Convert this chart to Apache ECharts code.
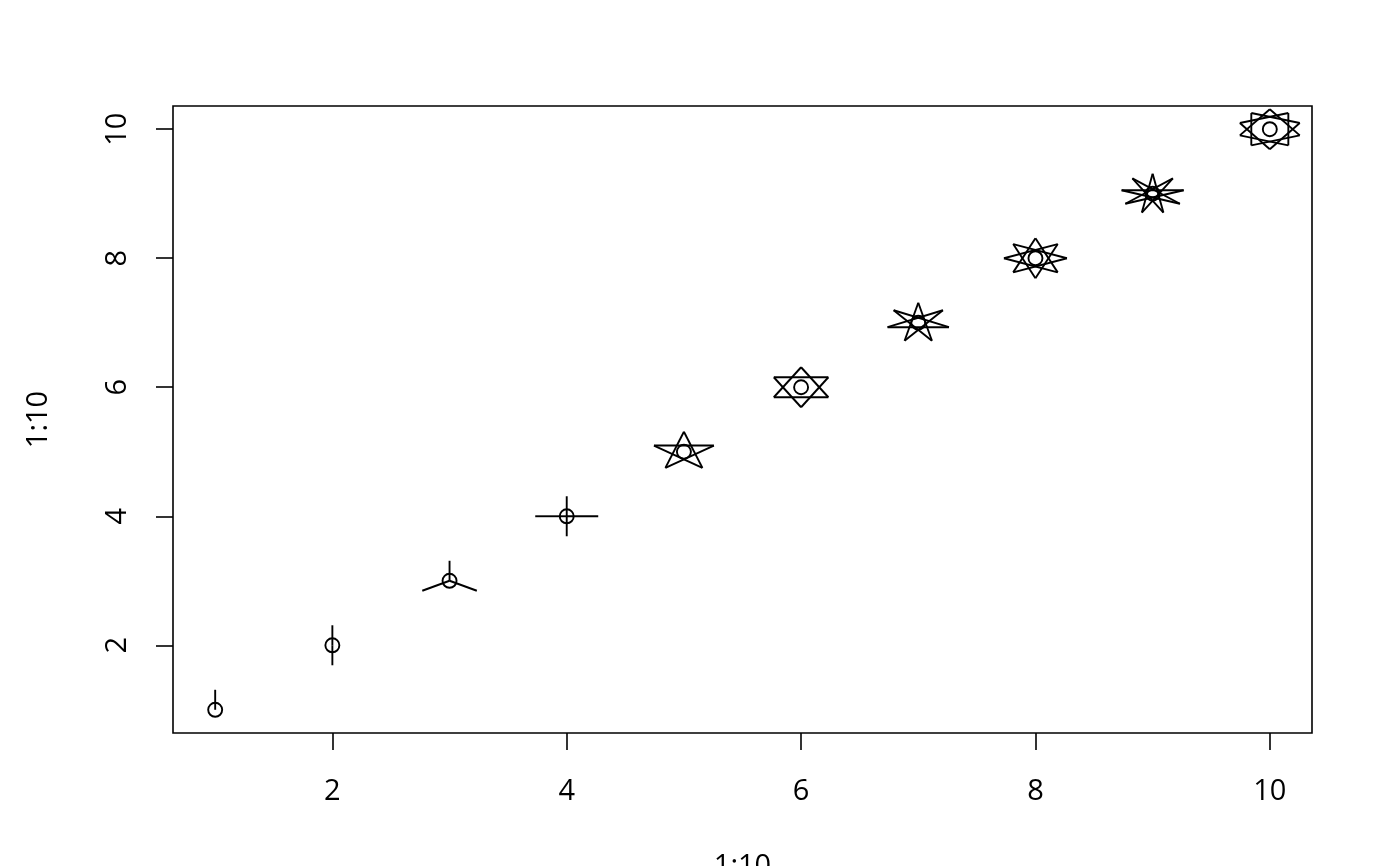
<!DOCTYPE html>
<html>
<head>
<meta charset="utf-8">
<script src="https://cdn.jsdelivr.net/npm/echarts@6/dist/echarts.min.js"></script>
<style>
html,body{margin:0;padding:0;background:#fff;}
#chart{width:1400px;height:866px;}
</style>
</head>
<body>
<div id="chart"></div>
<script>
// Data
const xValues = [1, 2, 3, 4, 5, 6, 7, 8, 9, 10];
const yValues = [1, 2, 3, 4, 5, 6, 7, 8, 9, 10];
const starPoints = [1, 2, 3, 4, 5, 6, 7, 8, 9, 10];
const starSteps = [0, 0, 0, 0, 2, 2, 3, 3, 4, 3];
const xTicks = [2, 4, 6, 8, 10];
const yTicks = [2, 4, 6, 8, 10];
const xName = '1:10';
const yName = '1:10';

const seriesData = xValues.map((x, i) => [x, yValues[i], starPoints[i], starSteps[i]]);

const FONT = 'Open Sans';
const FS = 29;
const LW = 1.9;
const RX = 31.5, RY = 20, RC = 7;

function renderItem(params, api) {
  const c = api.coord([api.value(0), api.value(1)]);
  const n = api.value(2);
  const k = api.value(3);
  const children = [];
  const style = { stroke: '#000', lineWidth: LW, fill: null };
  children.push({ type: 'circle', shape: { cx: c[0], cy: c[1], r: RC }, style: style });
  const verts = [];
  for (let i = 0; i < n; i++) {
    const a = Math.PI / 2 + 2 * Math.PI * i / n;
    verts.push([c[0] + RX * Math.cos(a), c[1] - RY * Math.sin(a)]);
  }
  if (k === 0) {
    verts.forEach(v => children.push({ type: 'line', shape: { x1: c[0], y1: c[1], x2: v[0], y2: v[1] }, style: style }));
  } else {
    for (let i = 0; i < n; i++) {
      const a = verts[i], b = verts[(i + k) % n];
      children.push({ type: 'line', shape: { x1: a[0], y1: a[1], x2: b[0], y2: b[1] }, style: style });
    }
  }
  return { type: 'group', children: children };
}

const chart = echarts.init(document.getElementById('chart'), null, { renderer: 'canvas' });
chart.setOption({
  backgroundColor: '#fff',
  animation: false,
  grid: {
    left: 173, top: 106, right: 88, bottom: 133,
    outerBoundsMode: 'none', containLabel: false,
    show: true, borderColor: '#000', borderWidth: 1.6, backgroundColor: 'transparent'
  },
  xAxis: {
    type: 'value', min: 0.64, max: 10.36,
    name: xName, nameLocation: 'middle', nameGap: 119,
    nameTextStyle: { fontFamily: FONT, fontSize: FS, color: '#000' },
    axisLine: { show: false },
    axisTick: { show: true, inside: false, length: 17, customValues: xTicks, lineStyle: { color: '#000', width: 1.6 } },
    axisLabel: { show: true, customValues: xTicks, margin: 44, fontFamily: FONT, fontSize: FS, color: '#000' },
    splitLine: { show: false }
  },
  yAxis: {
    type: 'value', min: 0.64, max: 10.36,
    name: yName, nameLocation: 'middle', nameGap: 120, nameRotate: 90,
    nameTextStyle: { fontFamily: FONT, fontSize: FS, color: '#000' },
    axisLine: { show: false },
    axisTick: { show: true, inside: false, length: 17, customValues: yTicks, lineStyle: { color: '#000', width: 1.6 } },
    axisLabel: { show: true, customValues: yTicks, rotate: 90, margin: 55, fontFamily: FONT, fontSize: FS, color: '#000', align: 'center', verticalAlign: 'middle' },
    splitLine: { show: false }
  },
  series: [{
    type: 'custom',
    clip: false,
    renderItem: renderItem,
    data: seriesData
  }]
});
</script>
</body>
</html>
